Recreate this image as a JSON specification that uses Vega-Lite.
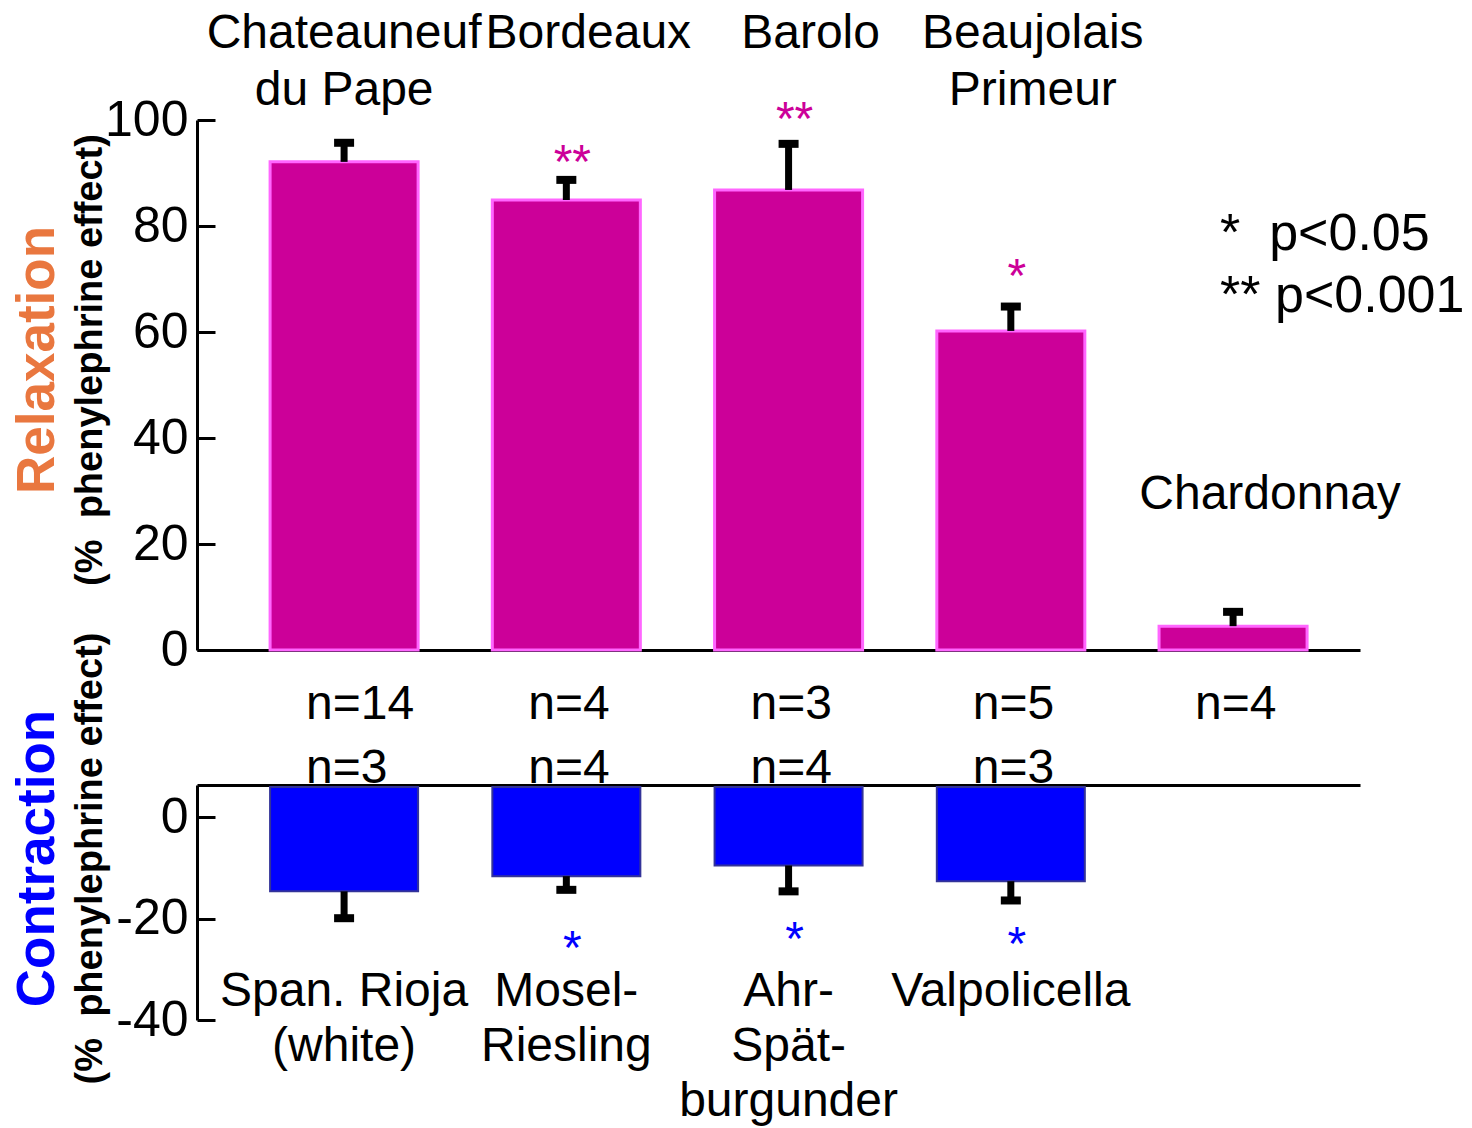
{
  "$schema": "https://vega.github.io/schema/vega-lite/v6.json",
  "padding": {"left": 11, "top": 9, "right": 5, "bottom": 5},
  "background": "white",
  "bounds": "flush",
  "spacing": 135,
  "config": {
    "font": "Liberation Sans",
    "view": {"stroke": null},
    "axis": {"domainColor": "black", "tickColor": "black", "labelColor": "black", "domainWidth": 3, "tickWidth": 3, "grid": false}
  },
  "datasets": {
    "relax": [
      {"pos": 1, "wine": "Chateauneuf\ndu Pape", "value": 92.1, "err": 95.7, "n": "n=14", "sig": "", "star_y": null},
      {"pos": 2, "wine": "Bordeaux", "value": 84.9, "err": 88.7, "n": "n=4", "sig": "**", "star_y": 89.0},
      {"pos": 3, "wine": "Barolo", "value": 86.8, "err": 95.5, "n": "n=3", "sig": "**", "star_y": 97.2},
      {"pos": 4, "wine": "Beaujolais\nPrimeur", "value": 60.2, "err": 64.8, "n": "n=5", "sig": "*", "star_y": 67.6},
      {"pos": 5, "wine": "Chardonnay", "value": 4.5, "err": 7.2, "n": "n=4", "sig": "", "star_y": null}
    ],
    "contract": [
      {"pos": 1, "wine": "Span. Rioja\n(white)", "value": -14.6, "err": -19.9, "n": "n=3", "sig": "", "star_y": null},
      {"pos": 2, "wine": "Mosel-\nRiesling", "value": -11.6, "err": -14.3, "n": "n=4", "sig": "*", "star_y": -28.9},
      {"pos": 3, "wine": "Ahr-\nSpät-\nburgunder", "value": -9.5, "err": -14.6, "n": "n=4", "sig": "*", "star_y": -27.2},
      {"pos": 4, "wine": "Valpolicella", "value": -12.6, "err": -16.4, "n": "n=3", "sig": "*", "star_y": -28.2}
    ]
  },
  "vconcat": [
    {
      "width": 1163,
      "height": 530,
      "data": {"name": "relax"},
      "title": {
        "text": "Relaxation",
        "subtitle": "(%\u00a0\u00a0phenylephrine effect)",
        "orient": "left",
        "anchor": "middle",
        "color": "#E9773F",
        "fontSize": 53,
        "fontWeight": "bold",
        "subtitleFontSize": 38,
        "subtitleFontWeight": "bold",
        "subtitleColor": "black",
        "subtitlePadding": 7,
        "offset": -5,
        "dx": 25
      },
      "encoding": {
        "x": {
          "field": "pos",
          "type": "ordinal",
          "scale": {"domain": [1, 2, 3, 4, 5], "paddingInner": 0.334, "paddingOuter": 0.2835, "align": 0.58},
          "axis": {"orient": "bottom", "labels": false, "ticks": false, "title": null, "domain": true}
        }
      },
      "layer": [
        {
          "mark": {"type": "bar", "fill": "#CC0099", "stroke": "#FF66FF", "strokeWidth": 3},
          "encoding": {
            "y": {
              "field": "value",
              "type": "quantitative",
              "scale": {"domain": [0, 100], "nice": false},
              "axis": {"values": [0, 20, 40, 60, 80, 100], "title": null, "tickSize": -18, "labelFontSize": 50, "labelPadding": 27}
            }
          }
        },
        {
          "mark": {"type": "rule", "color": "black", "strokeWidth": 7},
          "encoding": {"y": {"field": "value", "type": "quantitative"}, "y2": {"field": "err"}}
        },
        {
          "mark": {"type": "tick", "color": "black", "thickness": 8, "size": 20, "opacity": 1},
          "encoding": {"y": {"field": "err", "type": "quantitative"}}
        },
        {
          "transform": [{"filter": "datum.sig != ''"}],
          "mark": {"type": "text", "fontSize": 48, "color": "#CC0099", "align": "center", "baseline": "alphabetic", "dx": 6},
          "encoding": {"y": {"field": "star_y", "type": "quantitative"}, "text": {"field": "sig"}}
        },
        {
          "transform": [{"filter": "datum.pos == 1"}],
          "mark": {"type": "text", "fontSize": 48, "color": "black", "align": "center", "baseline": "alphabetic", "lineBreak": "\n", "lineHeight": 57},
          "encoding": {"y": {"datum": 113.6}, "text": {"field": "wine"}}
        },
        {
          "transform": [{"filter": "datum.pos >= 2 && datum.pos <= 4"}],
          "mark": {"type": "text", "fontSize": 48, "color": "black", "align": "center", "baseline": "alphabetic", "lineBreak": "\n", "lineHeight": 57, "dx": 22},
          "encoding": {"y": {"datum": 113.6}, "text": {"field": "wine"}}
        },
        {
          "transform": [{"filter": "datum.pos == 5"}],
          "mark": {"type": "text", "fontSize": 48, "color": "black", "align": "center", "baseline": "alphabetic", "dx": 37},
          "encoding": {"y": {"datum": 26.6}, "text": {"field": "wine"}}
        },
        {
          "mark": {"type": "text", "fontSize": 48, "color": "black", "align": "left", "baseline": "alphabetic", "dx": -38},
          "encoding": {"y": {"datum": -13}, "text": {"field": "n"}}
        },
        {
          "data": {"values": [{"t": "*\u00a0\u00a0p<0.05"}]},
          "mark": {"type": "text", "fontSize": 52, "color": "black", "align": "left", "baseline": "alphabetic", "dx": -13},
          "encoding": {"x": {"datum": 5}, "y": {"datum": 75.5}, "text": {"field": "t"}}
        },
        {
          "data": {"values": [{"t": "**\u00a0p<0.001"}]},
          "mark": {"type": "text", "fontSize": 52, "color": "black", "align": "left", "baseline": "alphabetic", "dx": -13},
          "encoding": {"x": {"datum": 5}, "y": {"datum": 63.8}, "text": {"field": "t"}}
        }
      ]
    },
    {
      "width": 1163,
      "height": 235,
      "data": {"name": "contract"},
      "title": {
        "text": "Contraction",
        "subtitle": "(%\u00a0\u00a0phenylephrine effect)",
        "orient": "left",
        "anchor": "middle",
        "color": "#0000FF",
        "fontSize": 53,
        "fontWeight": "bold",
        "subtitleFontSize": 38,
        "subtitleFontWeight": "bold",
        "subtitleColor": "black",
        "subtitlePadding": 7,
        "offset": 6,
        "dx": 44
      },
      "encoding": {
        "x": {
          "field": "pos",
          "type": "ordinal",
          "scale": {"domain": [1, 2, 3, 4, 5], "paddingInner": 0.334, "paddingOuter": 0.2835, "align": 0.58},
          "axis": {"orient": "top", "labels": false, "ticks": false, "title": null, "domain": true}
        }
      },
      "layer": [
        {
          "mark": {"type": "bar", "fill": "#0000FF", "stroke": "#333399", "strokeWidth": 2},
          "encoding": {
            "y": {
              "field": "value",
              "type": "quantitative",
              "scale": {"domain": [-40, 6.4], "nice": false},
              "axis": {"values": [0, -20, -40], "title": null, "tickSize": -18, "labelFontSize": 50, "labelPadding": 27, "labelExpr": "'' + datum.value"}
            },
            "y2": {"datum": 6}
          }
        },
        {
          "mark": {"type": "rule", "color": "black", "strokeWidth": 7},
          "encoding": {"y": {"field": "value", "type": "quantitative"}, "y2": {"field": "err"}}
        },
        {
          "mark": {"type": "tick", "color": "black", "thickness": 8, "size": 20, "opacity": 1},
          "encoding": {"y": {"field": "err", "type": "quantitative"}}
        },
        {
          "transform": [{"filter": "datum.sig != ''"}],
          "mark": {"type": "text", "fontSize": 48, "color": "#0000FF", "align": "center", "baseline": "alphabetic", "dx": 6},
          "encoding": {"y": {"field": "star_y", "type": "quantitative"}, "text": {"field": "sig"}}
        },
        {
          "mark": {"type": "text", "fontSize": 48, "color": "black", "align": "center", "baseline": "alphabetic", "lineBreak": "\n", "lineHeight": 55},
          "encoding": {"y": {"datum": -37.2}, "text": {"field": "wine"}}
        },
        {
          "mark": {"type": "text", "fontSize": 48, "color": "black", "align": "left", "baseline": "alphabetic", "dx": -38},
          "encoding": {"y": {"datum": 6.85}, "text": {"field": "n"}}
        }
      ]
    }
  ]
}
